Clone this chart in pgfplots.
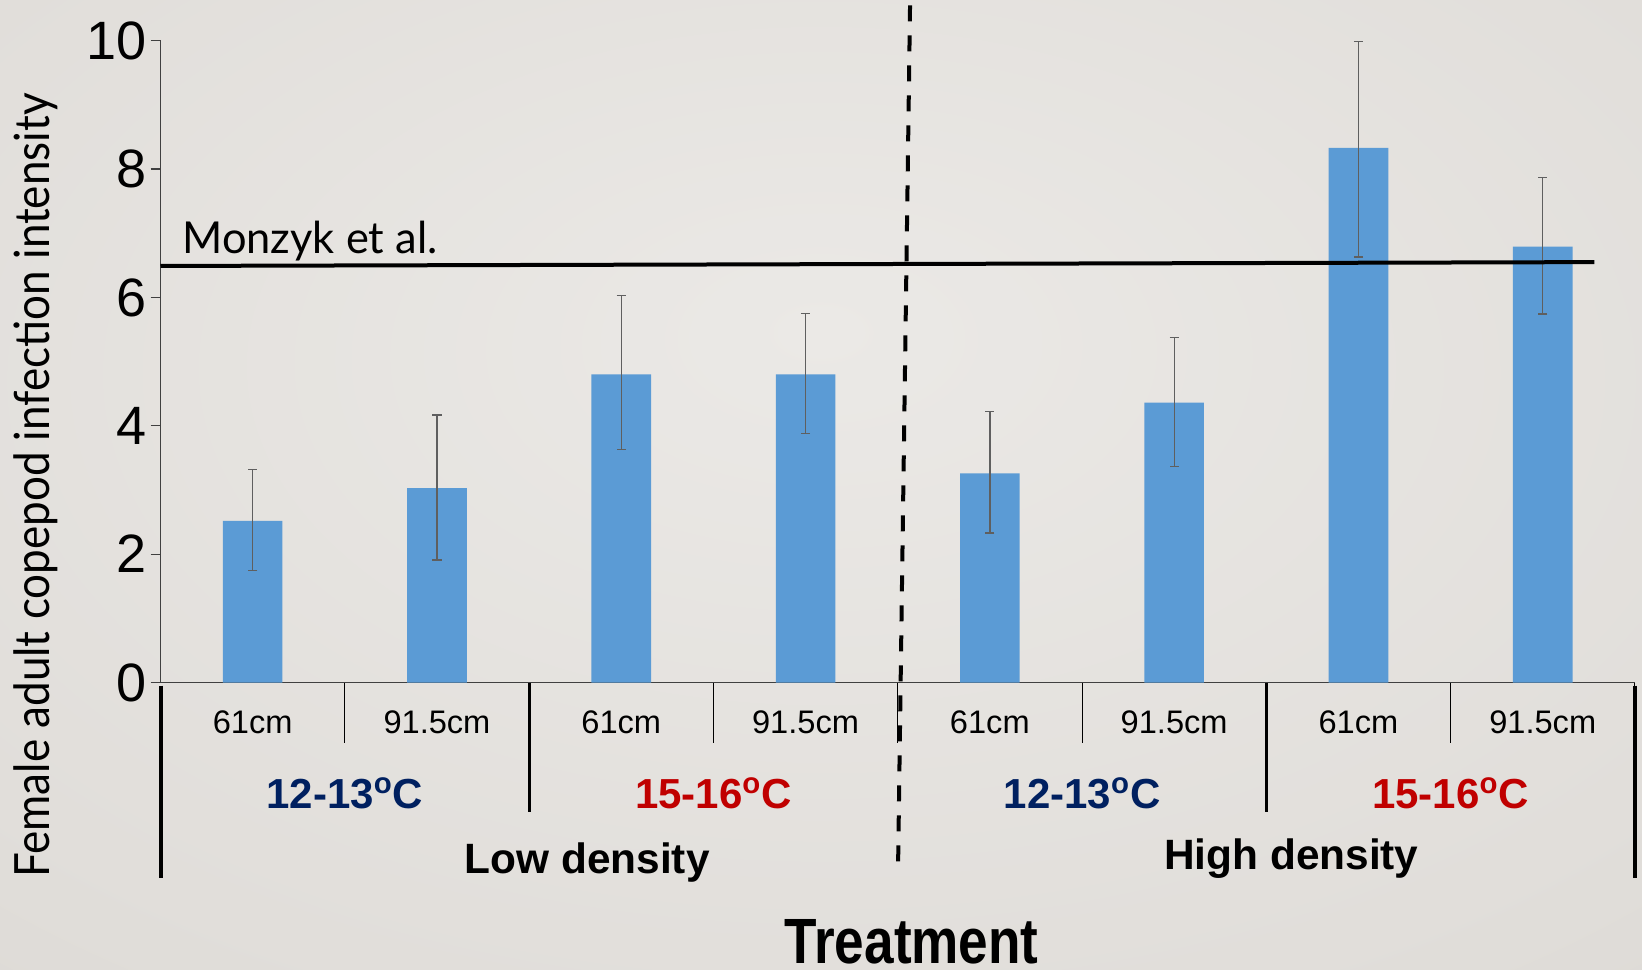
\documentclass[border=0pt]{standalone}
\usepackage{fontspec}
\setmainfont{Liberation Sans}
\newfontfamily\gill{Lato}
\usepackage{graphicx}
\usepackage{pgfplots}
\pgfplotsset{compat=1.18}
\usepackage{pgfplotstable}

\definecolor{barblue}{HTML}{5B9BD5}
\definecolor{navy}{HTML}{002060}
\definecolor{darkred}{HTML}{C00000}
\definecolor{errgrey}{HTML}{5F5F5F}
\definecolor{axisgrey}{HTML}{404040}
\definecolor{bgA}{HTML}{EBE9E6}
\definecolor{bgB}{HTML}{E0DDD9}
\definecolor{bgC}{HTML}{CCC9C3}
\pgfdeclareradialshading{bgshade}{\pgfpoint{0bp}{8bp}}{color(0bp)=(bgA); color(35bp)=(bgB); color(75bp)=(bgC)}

\pgfplotstableread{
x y ep em
0 2.52 0.80 0.78
1 3.03 1.14 1.12
2 4.80 1.23 1.17
3 4.80 0.95 0.92
4 3.26 0.96 0.93
5 4.36 1.01 0.99
6 8.33 1.66 1.70
7 6.79 1.08 1.05
}\datatable

\newcommand{\szfont}{\fontsize{16.3}{16.3}\selectfont}
\newcommand{\tmpfont}{\fontsize{21}{21}\selectfont\bfseries}
\newcommand{\dnfont}{\fontsize{21.2}{21.2}\selectfont\bfseries}

\begin{document}
\begin{tikzpicture}
\useasboundingbox (0,0) rectangle (821pt,484.5pt);
\shade[shading=bgshade] (0,0) rectangle (821pt,484.5pt);
\begin{axis}[
  at={(80.25pt,143.25pt)}, anchor=south west,
  width=737.2pt, height=320.9pt, scale only axis,
  xmin=-0.5, xmax=7.5, ymin=0, ymax=10,
  axis lines=left,
  axis line style={-, draw=axisgrey, line width=0.6pt},
  xtick=\empty, ytick={0,2,...,10},
  tick align=outside, major tick length=5pt,
  ytick style={draw=axisgrey, line width=0.6pt},
  yticklabel style={font=\fontsize{27}{27}\selectfont, inner sep=0pt, xshift=-2pt},
  /pgf/number format/assume math mode=true,
  clip=false,
]
\addplot[ybar, bar width=29.8pt, fill=barblue, draw=none,
  error bars/.cd, y dir=both, y explicit,
  error mark=-,
  error bar style={errgrey, line width=0.65pt},
  error mark options={errgrey, line width=0.65pt, mark size=2.3pt, rotate=90}]
  table[x=x, y=y, y error plus=ep, y error minus=em]{\datatable};

% Monzyk et al. reference line
\addplot[black, line width=2pt, forget plot] coordinates {(-0.5,6.49) (7.28,6.55)};
% dashed separator
\addplot[black, line width=2pt, dash pattern=on 8pt off 7pt, forget plot] coordinates {(3.567,10.55) (3.502,-2.874)};

% category dividers
\draw[black, line width=0.5pt] (axis cs:0.5,0) -- (axis cs:0.5,-0.947);
\draw[black, line width=0.5pt] (axis cs:2.5,0) -- (axis cs:2.5,-0.947);
\draw[black, line width=0.5pt] (axis cs:3.5,0) -- (axis cs:3.5,-0.947);
\draw[black, line width=0.5pt] (axis cs:4.5,0) -- (axis cs:4.5,-0.947);
\draw[black, line width=0.5pt] (axis cs:6.5,0) -- (axis cs:6.5,-0.947);
\draw[black, line width=1.6pt] (axis cs:1.5,0) -- (axis cs:1.5,-2.02);
\draw[black, line width=1.6pt] (axis cs:5.5,0) -- (axis cs:5.5,-2.02);
\draw[black, line width=0.5pt] (axis cs:7.5,0) -- (axis cs:7.5,-0.05);
\draw[black, line width=2pt] (axis cs:-0.5,-0.05) -- (axis cs:-0.5,-3.04);
\draw[black, line width=2pt] (axis cs:7.5,-0.05) -- (axis cs:7.5,-3.04);

% size labels
\node[anchor=base, inner sep=0pt, font=\szfont] at (axis cs:0,-0.791) {61cm};
\node[anchor=base, inner sep=0pt, font=\szfont] at (axis cs:1,-0.791) {91.5cm};
\node[anchor=base, inner sep=0pt, font=\szfont] at (axis cs:2,-0.791) {61cm};
\node[anchor=base, inner sep=0pt, font=\szfont] at (axis cs:3,-0.791) {91.5cm};
\node[anchor=base, inner sep=0pt, font=\szfont] at (axis cs:4,-0.791) {61cm};
\node[anchor=base, inner sep=0pt, font=\szfont] at (axis cs:5,-0.791) {91.5cm};
\node[anchor=base, inner sep=0pt, font=\szfont] at (axis cs:6,-0.791) {61cm};
\node[anchor=base, inner sep=0pt, font=\szfont] at (axis cs:7,-0.791) {91.5cm};

% temperature labels
\node[anchor=base, inner sep=0pt, font=\tmpfont, text=navy] at (axis cs:0.5,-1.96) {12-13\textsuperscript{o}C};
\node[anchor=base, inner sep=0pt, font=\tmpfont, text=darkred] at (axis cs:2.5,-1.96) {15-16\textsuperscript{o}C};
\node[anchor=base, inner sep=0pt, font=\tmpfont, text=navy] at (axis cs:4.5,-1.96) {12-13\textsuperscript{o}C};
\node[anchor=base, inner sep=0pt, font=\tmpfont, text=darkred] at (axis cs:6.5,-1.96) {15-16\textsuperscript{o}C};

% density labels
\node[anchor=base, inner sep=0pt, font=\dnfont] at (axis cs:1.815,-2.972) {Low density};
\node[anchor=base, inner sep=0pt, font=\dnfont] at (axis cs:5.636,-2.92) {High density};

% axis title
\node[anchor=base, inner sep=0pt] at (axis cs:3.576,-4.38) {\resizebox{127pt}{\height}{\fontsize{32}{32}\selectfont\bfseries Treatment}};

% Monzyk label
\node[anchor=base west, inner sep=0pt] at (axis cs:-0.383,6.69) {\resizebox{127.5pt}{\height}{\gill\fontsize{22}{22}\selectfont Monzyk et al.}};

% y label
\node[rotate=90, anchor=base, inner sep=0pt] at (axis cs:-1.1,3.07) {\resizebox{392pt}{\height}{\gill\fontsize{24.3}{24.3}\selectfont Female adult copepod infection intensity}};
\end{axis}
\end{tikzpicture}
\end{document}
